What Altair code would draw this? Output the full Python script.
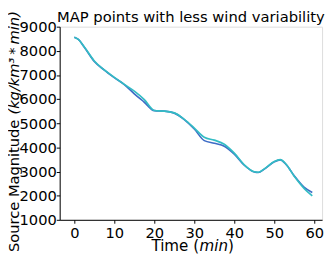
import altair as alt
import pandas as pd

# --- data ---
times = [0, 1, 2.5, 5, 7.5, 10, 12.5, 15, 17.5, 20, 22.5, 25, 27.5, 30, 32.5,
         35, 37.5, 40, 42.5, 45, 46, 47.5, 50, 51.5, 53, 55, 57.5, 59.5]
blue = [8560, 8470, 8150, 7560, 7200, 6890, 6600, 6220, 5870, 5520, 5500, 5420,
        5150, 4760, 4280, 4170, 4050, 3720, 3260, 2980, 2960, 3100, 3400, 3480,
        3280, 2820, 2340, 2130]
cyan = [8560, 8470, 8160, 7580, 7210, 6900, 6610, 6330, 5980, 5530, 5500, 5430,
        5160, 4800, 4420, 4300, 4130, 3760, 3280, 2990, 2970, 3110, 3420, 3490,
        3290, 2800, 2290, 1990]
series_names = ["run A", "run B"]
series_colors = ["#3d6cc6", "#33bcc4"]
x_ticks = [0, 10, 20, 30, 40, 50, 60]
y_ticks = [1000, 2000, 3000, 4000, 5000, 6000, 7000, 8000, 9000]
title_text = "MAP points with less wind variability"
ytitle_parts = ["Source Magnitude ", "(kg/km\u00b3\u2009*\u2009min)"]
xtitle_parts = ["Time (", "min", ")"]

FONT = "DejaVu Sans"
FS = 15
TFS = 15.5

rows = []
for name, vals in zip(series_names, [blue, cyan]):
    for t, v in zip(times, vals):
        rows.append({"t": t, "v": v, "s": name})
df = pd.DataFrame(rows)

axis_common = dict(title=None, grid=False, labelFontSize=FS, labelFont=FONT,
                   labelColor="black", tickColor="black", domainColor="black",
                   tickSize=3.5, labelFlush=False, format="d")

lines = alt.Chart(df).mark_line(strokeWidth=1.7, interpolate="monotone").encode(
    x=alt.X("t:Q", scale=alt.Scale(domain=[-3.66, 61.95], nice=False, zero=False),
            axis=alt.Axis(values=x_ticks, labelPadding=2.5, **axis_common)),
    y=alt.Y("v:Q", scale=alt.Scale(domain=[1000, 9000], nice=False, zero=False),
            axis=alt.Axis(values=y_ticks, labelPadding=0, **axis_common)),
    color=alt.Color("s:N", scale=alt.Scale(domain=series_names, range=series_colors),
                    legend=None),
    order=alt.Order("s:N"),
)


def label(txt, x, y, size, italic=False, angle=0, align="left"):
    kw = dict(align=align, baseline="alphabetic", font=FONT, fontSize=size,
              color="black")
    if italic:
        kw["fontStyle"] = "italic"
    if angle:
        kw["angle"] = angle
    return alt.Chart(pd.DataFrame({"txt": [txt]})).mark_text(**kw).encode(
        x=alt.value(x), y=alt.value(y), text="txt:N")


title = label(title_text, 134.5, -4.5, 15.1, align="center")
yt1 = label(ytitle_parts[0], -41.5, 231, 15, angle=270)
yt2 = label(ytitle_parts[1], -41.5, 90.1, 15, italic=True, angle=270)
xt1 = label(xtitle_parts[0], 94, 230, TFS)
xt2 = label(xtitle_parts[1], 143.3, 230, TFS, italic=True)
xt3 = label(xtitle_parts[2], 172.5, 230, TFS)

chart = alt.layer(lines, title, yt1, yt2, xt1, xt2, xt3).properties(
    width=269, height=198,
    autosize=alt.AutoSizeParams(type="none"),
    padding={"left": 53, "top": 16, "right": 3, "bottom": 36},
).configure_view(stroke="black", strokeWidth=1).configure(background="white")

chart.save("out.html", embed_options={"renderer": "svg", "actions": False})
